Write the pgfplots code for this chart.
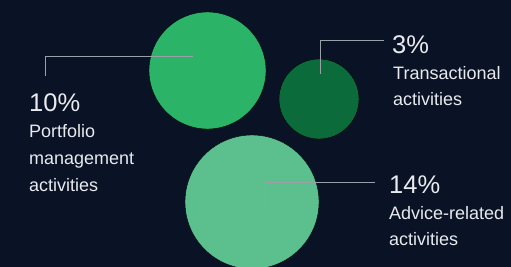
\documentclass[border=0pt]{standalone}
\usepackage{pgfplots}
\pgfplotsset{compat=1.18}
\usepackage{fontspec}
\setmainfont{Liberation Sans}
\definecolor{bg}{HTML}{0A1326}
\definecolor{cA}{HTML}{2BB467}
\definecolor{cB}{HTML}{0B6B3A}
\definecolor{cC}{HTML}{5BC08E}
\definecolor{txt}{HTML}{E8EAEE}
\definecolor{ln}{HTML}{9AA0A8}
\newcommand{\pctfont}{\fontsize{25.5bp}{28bp}\selectfont}
\newcommand{\labfont}{\fontsize{18bp}{22bp}\selectfont}
\begin{document}
\begin{tikzpicture}
\begin{axis}[width=511bp,height=267bp,scale only axis,
  xmin=0,xmax=511,ymin=0,ymax=267,y dir=reverse,hide axis,clip=true,
  clip marker paths=true,
  axis background/.style={fill=bg}]
\addplot[only marks,mark=*,mark size=58.5bp,mark options={fill=cA,draw=none}] coordinates {(207.5,70.5)};
\addplot[only marks,mark=*,mark size=40bp,mark options={fill=cB,draw=none}] coordinates {(319,99)};
\addplot[only marks,mark=*,mark size=67bp,mark options={fill=cC,draw=none}] coordinates {(252,202)};
\addplot[ln,line width=0.8bp] coordinates {(45,75.5) (45,56) (193,56)};
\addplot[ln,line width=0.8bp] coordinates {(320,74) (320,40) (384,40)};
\addplot[ln,line width=0.8bp] coordinates {(265,212) (265,182) (375,182)};
\node[anchor=base west,inner sep=0,txt] at (axis cs:29,111) {\pctfont 10\%};
\node[anchor=base west,inner sep=0,txt] at (axis cs:29,137) {\labfont Portfolio};
\node[anchor=base west,inner sep=0,txt] at (axis cs:29,164) {\labfont management};
\node[anchor=base west,inner sep=0,txt] at (axis cs:29,191) {\labfont activities};
\node[anchor=base west,inner sep=0,txt] at (axis cs:392,53) {\pctfont 3\%};
\node[anchor=base west,inner sep=0,txt] at (axis cs:393,79) {\labfont Transactional};
\node[anchor=base west,inner sep=0,txt] at (axis cs:393,105) {\labfont activities};
\node[anchor=base west,inner sep=0,txt] at (axis cs:389,193) {\pctfont 14\%};
\node[anchor=base west,inner sep=0,txt] at (axis cs:389,219) {\labfont Advice-related};
\node[anchor=base west,inner sep=0,txt] at (axis cs:389,245) {\labfont activities};
\end{axis}
\end{tikzpicture}
\end{document}
